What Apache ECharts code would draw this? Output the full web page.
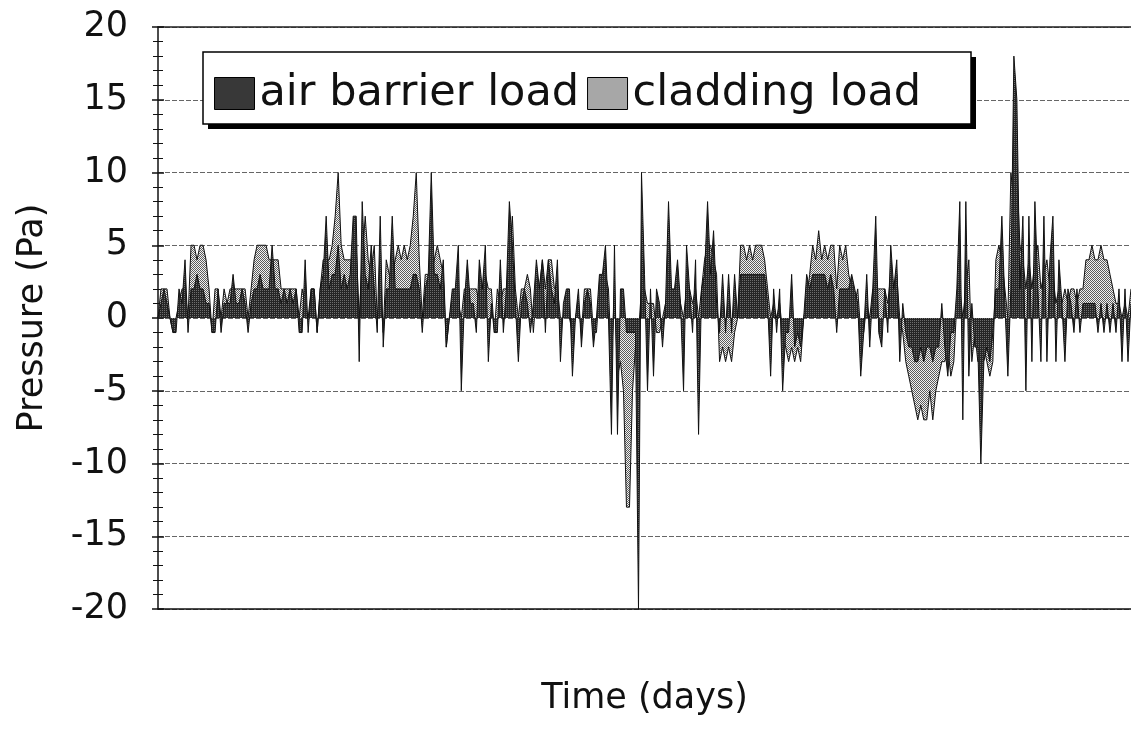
<!DOCTYPE html>
<html>
<head>
<meta charset="utf-8">
<script src="https://cdn.jsdelivr.net/npm/echarts@6/dist/echarts.min.js"></script>
<style>
html,body{margin:0;padding:0;background:#fff;}
#chart{width:1131px;height:753px;}
</style>
</head>
<body>
<div id="chart"></div>
<script>
// ---- data (one value every ~3 px) ----
const seriesNames = ['air barrier load', 'cladding load'];
const yTicks = [-20, -15, -10, -5, 0, 5, 10, 15, 20];

const airBarrierLoad = [
  0,1,2,1,0,-1,-1,2,1,4,
  -1,2,2,3,2,2,1,1,-1,-1,
  2,-1,1,1,1,3,1,1,2,1,
  -1,1,2,2,3,2,2,2,5,2,
  2,1,2,1,2,1,2,-1,-1,4,
  -1,2,2,-1,2,3,7,2,3,3,
  5,2,3,2,3,7,7,-3,8,3,
  2,5,2,-1,7,-2,2,2,7,2,
  2,2,2,2,2,3,3,2,-1,2,
  3,10,3,3,2,4,-2,0,2,2,
  5,-5,1,4,1,1,-1,4,2,5,
  -3,1,-1,-1,4,-1,2,8,5,1,
  -3,1,2,1,-1,1,4,2,4,-1,
  4,2,1,4,-3,1,2,2,-4,0,
  2,-2,1,2,1,-2,0,3,3,5,
  0,-8,5,-8,2,2,-1,-1,-1,-1,
  -20,10,3,-5,2,-4,2,1,-2,1,
  8,2,2,4,1,-5,5,2,-1,4,
  -8,2,3,8,3,6,1,-1,3,-1,
  3,-1,3,0,3,3,3,3,3,3,
  3,3,3,1,-4,2,-1,2,-5,-1,
  -1,3,-2,-1,-2,0,3,2,3,3,
  3,3,3,2,3,2,-1,2,2,2,
  2,3,2,1,-4,-1,3,-2,2,7,
  -1,-2,2,-1,5,2,4,-3,1,-1,
  -2,-2,-3,-3,-2,-3,-2,-2,-3,-2,
  -2,1,-2,-4,-1,-1,2,8,-7,8,
  -4,1,-2,-2,-10,-3,-2,-3,-1,2,
  2,7,1,-4,2,18,15,2,7,-5,
  7,-3,8,2,-3,7,-3,4,7,-3,
  4,1,-3,2,1,-1,2,-1,1,1,
  1,1,1,-1,1,-1,1,-1,1,-1,
  2,-3,2,-3,1
];

const claddingLoad = [
  0,2,2,2,0,-1,0,1,2,2,
  0,5,5,4,5,5,4,2,-1,2,
  2,0,2,1,2,2,2,2,2,2,
  0,2,4,5,5,5,5,4,4,4,
  4,2,2,2,2,2,2,0,2,1,
  0,2,2,-1,2,4,4,4,5,7,
  10,5,4,4,4,4,5,0,4,7,
  4,3,5,0,2,-1,4,3,3,4,
  5,4,5,4,5,7,10,4,0,3,
  3,3,4,5,4,3,-2,0,1,2,
  1,0,2,2,2,2,2,1,2,3,
  2,2,-1,2,1,2,2,4,7,2,
  0,2,2,3,2,-1,2,2,4,2,
  4,4,2,2,0,0,1,0,-1,0,
  1,-1,2,2,2,-1,-1,2,2,3,
  2,-3,2,-4,-3,-5,-13,-13,-5,-2,
  -1,2,2,1,1,1,-1,-1,0,1,
  2,2,1,2,1,0,2,2,1,2,
  0,2,4,5,5,4,3,-3,-2,-3,
  -2,-3,-1,0,5,5,4,5,4,5,
  5,5,4,2,0,1,0,1,-1,-2,
  -3,-2,-3,-2,-3,0,1,3,5,4,
  6,4,5,4,5,5,2,5,4,5,
  3,2,1,2,-1,-1,1,0,2,2,
  2,2,2,1,3,2,3,0,-1,-3,
  -4,-5,-6,-7,-6,-7,-7,-5,-7,-5,
  -4,-3,-3,-2,-4,-3,1,2,0,2,
  4,-3,-1,-3,-3,-2,-3,-4,-3,4,
  5,4,2,0,10,8,10,5,4,2,
  4,2,4,5,2,3,4,2,3,1,
  2,1,2,1,2,2,1,2,2,4,
  4,5,4,4,5,4,4,3,2,1,
  1,0,1,0,2
];

const timeSteps = airBarrierLoad.map((_, i) => String(i));

// ---- fill patterns ----
function makePattern(bg, fg, test) {
  const c = document.createElement('canvas');
  c.width = 4; c.height = 4;
  const ctx = c.getContext('2d');
  ctx.fillStyle = bg; ctx.fillRect(0, 0, 4, 4);
  ctx.fillStyle = fg;
  for (let x = 0; x < 4; x++) for (let y = 0; y < 4; y++) if (test(x, y)) ctx.fillRect(x, y, 1, 1);
  return { image: c, repeat: 'repeat' };
}
const darkFill = makePattern('#262626', '#6e6e6e', (x, y) => (x % 2 === 0 && y % 2 === 0));
const lightFill = makePattern('#f2f2f2', '#5c5c5c', (x, y) => ((x + y) % 2 === 0));

const FONT = 'DejaVu Sans';
const chart = echarts.init(document.getElementById('chart'), null, { renderer: 'canvas' });

chart.setOption({
  animation: false,
  backgroundColor: '#ffffff',
  grid: { left: 158, right: 0, top: 27, bottom: 144, containLabel: false },
  graphic: [
    { type: 'rect', z: 20, shape: { x: 208, y: 57, width: 768, height: 72 }, style: { fill: '#000' } },
    { type: 'rect', z: 21, shape: { x: 203, y: 52, width: 768, height: 72 }, style: { fill: '#fff', stroke: '#000', lineWidth: 1.5 } }
  ],
  legend: {
    z: 30,
    left: 214, top: 72,
    data: [
      { name: seriesNames[0], icon: 'rect', itemStyle: { color: darkFill, borderColor: '#000', borderWidth: 1 } },
      { name: seriesNames[1], icon: 'rect', itemStyle: { color: lightFill, borderColor: '#000', borderWidth: 1 } }
    ],
    itemWidth: 40, itemHeight: 32, itemGap: 8,
    padding: 0,
    textStyle: { fontFamily: FONT, fontSize: 43, color: '#111' }
  },
  xAxis: [
    {
      type: 'category', data: timeSteps, boundaryGap: false,
      position: 'bottom',
      axisLine: { onZero: false, lineStyle: { color: '#111', width: 1.5 } },
      axisTick: { show: false }, axisLabel: { show: false }, splitLine: { show: false },
      name: 'Time (days)', nameLocation: 'middle', nameGap: 72,
      nameTextStyle: { fontFamily: FONT, fontSize: 35, color: '#111' }
    },
    {
      type: 'category', data: timeSteps, boundaryGap: false,
      position: 'top',
      axisLine: { onZero: false, lineStyle: { color: '#222', width: 1.5 } },
      axisTick: { show: false }, axisLabel: { show: false }, splitLine: { show: false }
    }
  ],
  yAxis: [
    {
      type: 'value', min: yTicks[0], max: yTicks[yTicks.length - 1], interval: 5,
      position: 'left',
      axisLine: { show: true, onZero: false, lineStyle: { color: '#111', width: 1.5 } },
      axisTick: { show: true, length: 6, lineStyle: { color: '#111', width: 1.5 } },
      minorTick: { show: true, splitNumber: 5, length: 5, lineStyle: { color: '#111', width: 1 } },
      axisLabel: { margin: 30, fontFamily: FONT, fontSize: 35, color: '#111' },
      splitLine: { show: true, lineStyle: { color: '#666', width: 1.2, type: [5, 2] } },
      name: 'Pressure (Pa)', nameLocation: 'middle', nameGap: 108,
      nameTextStyle: { fontFamily: FONT, fontSize: 35, color: '#111' }
    },
    {
      type: 'value', min: yTicks[0], max: yTicks[yTicks.length - 1], interval: 5,
      position: 'left',
      axisLine: { show: false, onZero: false },
      axisTick: { show: true, inside: true, length: 6, lineStyle: { color: '#111', width: 1.5 } },
      minorTick: { show: true, splitNumber: 5, length: 5, lineStyle: { color: '#111', width: 1 } },
      axisLabel: { show: false }, splitLine: { show: false }
    }
  ],
  series: [
    {
      name: seriesNames[1], type: 'line', data: claddingLoad,
      showSymbol: false, symbol: 'none', z: 2,
      itemStyle: { color: lightFill },
      lineStyle: { color: '#111', width: 1 },
      areaStyle: { color: lightFill, opacity: 1 }
    },
    {
      name: seriesNames[0], type: 'line', data: airBarrierLoad,
      showSymbol: false, symbol: 'none', z: 3,
      itemStyle: { color: darkFill },
      lineStyle: { color: '#111', width: 1 },
      areaStyle: { color: darkFill, opacity: 1 }
    }
  ]
});
</script>
</body>
</html>
